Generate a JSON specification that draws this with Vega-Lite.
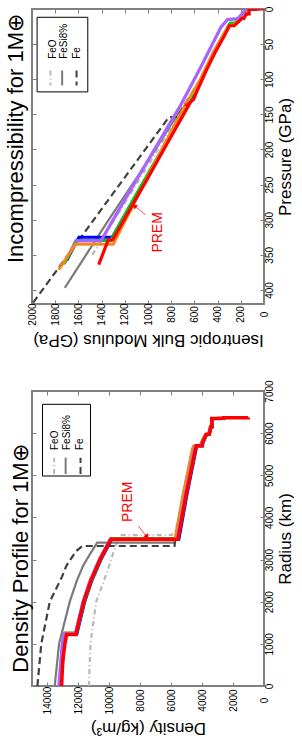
{
  "$schema": "https://vega.github.io/schema/vega-lite/v6.json",
  "padding": {"left": 3, "top": 5, "right": 0, "bottom": 0},
  "spacing": 28,
  "config": {
    "font": "Liberation Sans",
    "view": {"stroke": "#808080", "strokeWidth": 2},
    "axis": {"grid": false, "domain": false, "minExtent": 0, "tickColor": "#808080", "tickWidth": 1, "labelFontSize": 10, "labelColor": "black", "labelFont": "Liberation Sans", "titleFont": "Liberation Sans", "titleFontSize": 17, "titleFontWeight": "normal", "titleColor": "black", "labelOverlap": false, "labelFlush": false},
    "title": {"font": "Liberation Sans", "fontSize": 22, "fontWeight": "normal", "color": "black"}
  },
  "datasets": {
    "bulk": [
      {"m":"FeO","i":0,"p":350,"K":1480},{"m":"FeO","i":1,"p":276,"K":1200},{"m":"FeO","i":2,"p":200,"K":915},{"m":"FeO","i":3,"p":125,"K":640},{"m":"FeO","i":4,"p":100,"K":545},{"m":"FeO","i":5,"p":60,"K":430},{"m":"FeO","i":6,"p":20,"K":292},{"m":"FeO","i":7,"p":20,"K":250},{"m":"FeO","i":8,"p":7,"K":150},{"m":"FeO","i":9,"p":0,"K":130},
      {"m":"FeSi8%","i":0,"p":397,"K":1717},{"m":"FeSi8%","i":1,"p":307,"K":1366},{"m":"FeSi8%","i":2,"p":200,"K":935},{"m":"FeSi8%","i":3,"p":150,"K":745},{"m":"FeSi8%","i":4,"p":140,"K":690},{"m":"FeSi8%","i":5,"p":100,"K":545},{"m":"FeSi8%","i":6,"p":60,"K":430},{"m":"FeSi8%","i":7,"p":20,"K":292},{"m":"FeSi8%","i":8,"p":20,"K":250},{"m":"FeSi8%","i":9,"p":7,"K":150},{"m":"FeSi8%","i":10,"p":0,"K":130},
      {"m":"Fe","i":0,"p":418,"K":1990},{"m":"Fe","i":1,"p":154,"K":820},{"m":"Fe","i":2,"p":154,"K":745},{"m":"Fe","i":3,"p":140,"K":700},{"m":"Fe","i":4,"p":100,"K":545},{"m":"Fe","i":5,"p":60,"K":430},{"m":"Fe","i":6,"p":20,"K":292},{"m":"Fe","i":7,"p":20,"K":250},{"m":"Fe","i":8,"p":7,"K":150},{"m":"Fe","i":9,"p":0,"K":130},
      {"m":"m1","i":0,"p":0,"K":150},{"m":"m1","i":1,"p":14,"K":227},{"m":"m1","i":2,"p":15,"K":314},{"m":"m1","i":3,"p":26,"K":372},{"m":"m1","i":4,"p":82.7,"K":545},{"m":"m1","i":5,"p":139,"K":725},{"m":"m1","i":6,"p":200,"K":944},{"m":"m1","i":7,"p":269.5,"K":1193},{"m":"m1","i":8,"p":330,"K":1405},{"m":"m1","i":9,"p":330,"K":1625},{"m":"m1","i":10,"p":364,"K":1726},
      {"m":"m2","i":0,"p":0,"K":125},{"m":"m2","i":1,"p":7,"K":148},{"m":"m2","i":2,"p":22,"K":255},{"m":"m2","i":3,"p":22,"K":295},{"m":"m2","i":4,"p":60,"K":425},{"m":"m2","i":5,"p":100,"K":540},{"m":"m2","i":6,"p":138,"K":668},{"m":"m2","i":7,"p":200,"K":875},{"m":"m2","i":8,"p":270,"K":1120},{"m":"m2","i":9,"p":325,"K":1308},{"m":"m2","i":10,"p":325,"K":1596},{"m":"m2","i":11,"p":358,"K":1700},
      {"m":"m3","i":0,"p":0,"K":130},{"m":"m3","i":1,"p":7,"K":150},{"m":"m3","i":2,"p":20,"K":250},{"m":"m3","i":3,"p":20,"K":292},{"m":"m3","i":4,"p":60,"K":430},{"m":"m3","i":5,"p":100,"K":545},{"m":"m3","i":6,"p":140,"K":680},{"m":"m3","i":7,"p":200,"K":880},{"m":"m3","i":8,"p":270,"K":1122},{"m":"m3","i":9,"p":329.5,"K":1322},{"m":"m3","i":10,"p":329.5,"K":1610},{"m":"m3","i":11,"p":362,"K":1720},
      {"m":"m4","i":0,"p":0,"K":140},{"m":"m4","i":1,"p":8,"K":165},{"m":"m4","i":2,"p":23,"K":262},{"m":"m4","i":3,"p":23,"K":300},{"m":"m4","i":4,"p":60,"K":432},{"m":"m4","i":5,"p":100,"K":548},{"m":"m4","i":6,"p":140,"K":690},{"m":"m4","i":7,"p":200,"K":880},{"m":"m4","i":8,"p":270,"K":1100},{"m":"m4","i":9,"p":334.8,"K":1300},{"m":"m4","i":10,"p":334.8,"K":1625},{"m":"m4","i":11,"p":371,"K":1769},
      {"m":"m5","i":0,"p":0,"K":150},{"m":"m5","i":1,"p":14,"K":227},{"m":"m5","i":2,"p":15,"K":314},{"m":"m5","i":3,"p":26,"K":372},{"m":"m5","i":4,"p":82.7,"K":545},{"m":"m5","i":5,"p":139,"K":725},{"m":"m5","i":6,"p":200,"K":944},{"m":"m5","i":7,"p":269.5,"K":1193},{"m":"m5","i":8,"p":330,"K":1405},{"m":"m5","i":9,"p":330,"K":1625},
      {"m":"PREM","i":0,"p":0,"K":2},{"m":"PREM","i":1,"p":0.03,"K":52},{"m":"PREM","i":2,"p":0.34,"K":52},{"m":"PREM","i":3,"p":0.34,"K":75},{"m":"PREM","i":4,"p":0.6,"K":75},{"m":"PREM","i":5,"p":0.6,"K":130},{"m":"PREM","i":6,"p":2.45,"K":129},{"m":"PREM","i":7,"p":7.1,"K":128},{"m":"PREM","i":8,"p":7.1,"K":153},{"m":"PREM","i":9,"p":13.35,"K":173},{"m":"PREM","i":10,"p":13.35,"K":190},{"m":"PREM","i":11,"p":23.83,"K":256},{"m":"PREM","i":12,"p":23.83,"K":299},{"m":"PREM","i":13,"p":28.3,"K":311},{"m":"PREM","i":14,"p":38.6,"K":343},{"m":"PREM","i":15,"p":62.7,"K":424},{"m":"PREM","i":16,"p":88.3,"K":500},{"m":"PREM","i":17,"p":115,"K":573},{"m":"PREM","i":18,"p":128.7,"K":606},{"m":"PREM","i":19,"p":135.75,"K":656},{"m":"PREM","i":20,"p":135.75,"K":644},{"m":"PREM","i":21,"p":200,"K":864},{"m":"PREM","i":22,"p":250,"K":1034},{"m":"PREM","i":23,"p":300,"K":1206},{"m":"PREM","i":24,"p":328.85,"K":1305},{"m":"PREM","i":25,"p":328.85,"K":1343},{"m":"PREM","i":26,"p":363.85,"K":1425}
    ],
    "dens": [
      {"m":"FeO","i":0,"r":0,"d":11320},{"m":"FeO","i":1,"r":1000,"d":11220},{"m":"FeO","i":2,"r":2000,"d":10850},{"m":"FeO","i":3,"r":2750,"d":10100},{"m":"FeO","i":4,"r":3320,"d":9610},{"m":"FeO","i":5,"r":3580,"d":9290},{"m":"FeO","i":6,"r":3580,"d":5970},{"m":"FeO","i":7,"r":3700,"d":5700},{"m":"FeO","i":8,"r":4500,"d":5250},{"m":"FeO","i":9,"r":5600,"d":4640},{"m":"FeO","i":10,"r":5690,"d":4560},{"m":"FeO","i":11,"r":5690,"d":4100},{"m":"FeO","i":12,"r":5770,"d":4060},{"m":"FeO","i":13,"r":5970,"d":3800},{"m":"FeO","i":14,"r":5970,"d":3600},{"m":"FeO","i":15,"r":6150,"d":3480},{"m":"FeO","i":16,"r":6150,"d":3400},{"m":"FeO","i":17,"r":6370,"d":3400},
      {"m":"FeSi8%","i":0,"r":0,"d":13530},{"m":"FeSi8%","i":1,"r":1000,"d":13250},{"m":"FeSi8%","i":2,"r":2000,"d":12560},{"m":"FeSi8%","i":3,"r":2500,"d":12100},{"m":"FeSi8%","i":4,"r":2850,"d":11700},{"m":"FeSi8%","i":5,"r":3100,"d":11300},{"m":"FeSi8%","i":6,"r":3400,"d":10790},{"m":"FeSi8%","i":7,"r":3400,"d":5780},{"m":"FeSi8%","i":8,"r":3550,"d":5650},{"m":"FeSi8%","i":9,"r":4500,"d":5250},{"m":"FeSi8%","i":10,"r":5600,"d":4640},{"m":"FeSi8%","i":11,"r":5690,"d":4560},{"m":"FeSi8%","i":12,"r":5690,"d":4100},{"m":"FeSi8%","i":13,"r":5770,"d":4060},{"m":"FeSi8%","i":14,"r":5970,"d":3800},{"m":"FeSi8%","i":15,"r":5970,"d":3600},{"m":"FeSi8%","i":16,"r":6150,"d":3480},{"m":"FeSi8%","i":17,"r":6150,"d":3400},{"m":"FeSi8%","i":18,"r":6370,"d":3400},
      {"m":"Fe","i":0,"r":0,"d":14650},{"m":"Fe","i":1,"r":1000,"d":14400},{"m":"Fe","i":2,"r":2000,"d":13850},{"m":"Fe","i":3,"r":2600,"d":13050},{"m":"Fe","i":4,"r":2850,"d":12780},{"m":"Fe","i":5,"r":3000,"d":12520},{"m":"Fe","i":6,"r":3200,"d":12150},{"m":"Fe","i":7,"r":3322,"d":11750},{"m":"Fe","i":8,"r":3322,"d":5780},{"m":"Fe","i":9,"r":3440,"d":5760},{"m":"Fe","i":10,"r":4500,"d":5250},{"m":"Fe","i":11,"r":5600,"d":4640},{"m":"Fe","i":12,"r":5690,"d":4560},{"m":"Fe","i":13,"r":5690,"d":4100},{"m":"Fe","i":14,"r":5770,"d":4060},{"m":"Fe","i":15,"r":5970,"d":3800},{"m":"Fe","i":16,"r":5970,"d":3600},{"m":"Fe","i":17,"r":6150,"d":3480},{"m":"Fe","i":18,"r":6150,"d":3400},{"m":"Fe","i":19,"r":6370,"d":3400},
      {"m":"m1","i":0,"r":0,"d":13260},{"m":"m1","i":1,"r":1000,"d":13040},{"m":"m1","i":2,"r":1240,"d":12930},{"m":"m1","i":3,"r":1240,"d":12200},{"m":"m1","i":4,"r":2000,"d":11700},{"m":"m1","i":5,"r":2500,"d":11240},{"m":"m1","i":6,"r":3000,"d":10650},{"m":"m1","i":7,"r":3480,"d":9950},{"m":"m1","i":8,"r":3480,"d":5620},{"m":"m1","i":9,"r":4500,"d":5110},{"m":"m1","i":10,"r":5600,"d":4500},{"m":"m1","i":11,"r":5690,"d":4440},{"m":"m1","i":12,"r":5690,"d":4050},{"m":"m1","i":13,"r":5770,"d":4020},{"m":"m1","i":14,"r":5970,"d":3760},{"m":"m1","i":15,"r":5970,"d":3570},{"m":"m1","i":16,"r":6150,"d":3460},{"m":"m1","i":17,"r":6150,"d":3380},{"m":"m1","i":18,"r":6370,"d":3390},
      {"m":"m2","i":0,"r":0,"d":13140},{"m":"m2","i":1,"r":1000,"d":12920},{"m":"m2","i":2,"r":1230,"d":12810},{"m":"m2","i":3,"r":1230,"d":12100},{"m":"m2","i":4,"r":2000,"d":11590},{"m":"m2","i":5,"r":2500,"d":11130},{"m":"m2","i":6,"r":3000,"d":10540},{"m":"m2","i":7,"r":3480,"d":9840},{"m":"m2","i":8,"r":3480,"d":5500},{"m":"m2","i":9,"r":4500,"d":5000},{"m":"m2","i":10,"r":5600,"d":4400},{"m":"m2","i":11,"r":5700,"d":4340},{"m":"m2","i":12,"r":5700,"d":3970},{"m":"m2","i":13,"r":5770,"d":3950},{"m":"m2","i":14,"r":5970,"d":3700},{"m":"m2","i":15,"r":5970,"d":3530},{"m":"m2","i":16,"r":6150,"d":3420},{"m":"m2","i":17,"r":6150,"d":3350},{"m":"m2","i":18,"r":6370,"d":3360},
      {"m":"m3","i":0,"r":0,"d":13170},{"m":"m3","i":1,"r":1000,"d":12950},{"m":"m3","i":2,"r":1260,"d":12850},{"m":"m3","i":3,"r":1260,"d":12130},{"m":"m3","i":4,"r":2000,"d":11620},{"m":"m3","i":5,"r":2500,"d":11160},{"m":"m3","i":6,"r":3000,"d":10570},{"m":"m3","i":7,"r":3500,"d":9870},{"m":"m3","i":8,"r":3500,"d":5560},{"m":"m3","i":9,"r":4500,"d":5050},{"m":"m3","i":10,"r":5600,"d":4440},{"m":"m3","i":11,"r":5700,"d":4380},{"m":"m3","i":12,"r":5700,"d":3990},{"m":"m3","i":13,"r":5770,"d":3970},{"m":"m3","i":14,"r":5970,"d":3720},{"m":"m3","i":15,"r":5970,"d":3540},{"m":"m3","i":16,"r":6150,"d":3430},{"m":"m3","i":17,"r":6150,"d":3360},{"m":"m3","i":18,"r":6370,"d":3370},
      {"m":"m4","i":0,"r":0,"d":13200},{"m":"m4","i":1,"r":1000,"d":12980},{"m":"m4","i":2,"r":1250,"d":12870},{"m":"m4","i":3,"r":1250,"d":12190},{"m":"m4","i":4,"r":2000,"d":11680},{"m":"m4","i":5,"r":2500,"d":11220},{"m":"m4","i":6,"r":3000,"d":10630},{"m":"m4","i":7,"r":3470,"d":9930},{"m":"m4","i":8,"r":3470,"d":5760},{"m":"m4","i":9,"r":4500,"d":5250},{"m":"m4","i":10,"r":5600,"d":4640},{"m":"m4","i":11,"r":5690,"d":4560},{"m":"m4","i":12,"r":5690,"d":4100},{"m":"m4","i":13,"r":5770,"d":4060},{"m":"m4","i":14,"r":5970,"d":3800},{"m":"m4","i":15,"r":5970,"d":3600},{"m":"m4","i":16,"r":6150,"d":3480},{"m":"m4","i":17,"r":6150,"d":3400},{"m":"m4","i":18,"r":6370,"d":3400},
      {"m":"m5","i":0,"r":0,"d":13260},{"m":"m5","i":1,"r":1000,"d":13040},{"m":"m5","i":2,"r":1240,"d":12930},{"m":"m5","i":3,"r":1240,"d":12200},{"m":"m5","i":4,"r":2000,"d":11700},{"m":"m5","i":5,"r":2500,"d":11240},{"m":"m5","i":6,"r":3000,"d":10650},{"m":"m5","i":7,"r":3480,"d":9950},{"m":"m5","i":8,"r":3480,"d":5620},{"m":"m5","i":9,"r":4500,"d":5110},{"m":"m5","i":10,"r":5600,"d":4500},{"m":"m5","i":11,"r":5690,"d":4440},{"m":"m5","i":12,"r":5690,"d":4050},{"m":"m5","i":13,"r":5770,"d":4020},{"m":"m5","i":14,"r":5970,"d":3760},{"m":"m5","i":15,"r":5970,"d":3570},{"m":"m5","i":16,"r":6150,"d":3460},{"m":"m5","i":17,"r":6150,"d":3380},{"m":"m5","i":18,"r":6370,"d":3390},
      {"m":"PREM","i":0,"r":0,"d":13088},{"m":"PREM","i":1,"r":600,"d":13010},{"m":"PREM","i":2,"r":1000,"d":12871},{"m":"PREM","i":3,"r":1221.5,"d":12764},{"m":"PREM","i":4,"r":1221.5,"d":12166},{"m":"PREM","i":5,"r":2000,"d":11655},{"m":"PREM","i":6,"r":2500,"d":11191},{"m":"PREM","i":7,"r":3000,"d":10601},{"m":"PREM","i":8,"r":3480,"d":9903},{"m":"PREM","i":9,"r":3480,"d":5566},{"m":"PREM","i":10,"r":4500,"d":5055},{"m":"PREM","i":11,"r":5600,"d":4443},{"m":"PREM","i":12,"r":5701,"d":4381},{"m":"PREM","i":13,"r":5701,"d":3992},{"m":"PREM","i":14,"r":5771,"d":3976},{"m":"PREM","i":15,"r":5971,"d":3724},{"m":"PREM","i":16,"r":5971,"d":3543},{"m":"PREM","i":17,"r":6151,"d":3436},{"m":"PREM","i":18,"r":6151,"d":3360},{"m":"PREM","i":19,"r":6346,"d":3381},{"m":"PREM","i":20,"r":6346,"d":2900},{"m":"PREM","i":21,"r":6356,"d":2900},{"m":"PREM","i":22,"r":6356,"d":2600},{"m":"PREM","i":23,"r":6368,"d":2600},{"m":"PREM","i":24,"r":6368,"d":1020},{"m":"PREM","i":25,"r":6371,"d":1020}
    ]
  },
  "vconcat": [
    {
      "width": 232,
      "height": 295,
      "title": {"text": "Incompressibility for 1M⊕", "orient": "left", "angle": 270, "baseline": "alphabetic", "offset": -18, "dx": 18},
      "resolve": {"axis": {"x": "independent", "y": "independent"}},
      "layer": [
        {
          "data": {"name": "bulk"},
          "transform": [{"filter": "datum.m === 'FeO' || datum.m === 'FeSi8%' || datum.m === 'Fe'"}],
          "mark": {"type": "line", "clip": true, "strokeWidth": 2.2},
          "encoding": {
            "x": {"field": "K", "type": "quantitative", "scale": {"domain": [0, 2000], "reverse": true, "nice": false, "zero": false},
              "axis": {"orient": "bottom", "values": [0,200,400,600,800,1000,1200,1400,1600,1800,2000], "format": "d", "labelAngle": 270, "labelAlign": "center", "labelBaseline": "middle", "tickSize": -4, "labelPadding": 14, "title": "Isentropic Bulk Modulus (GPa)", "titleAngle": 180, "titleBaseline": "bottom", "titlePadding": 5}},
            "y": {"field": "p", "type": "quantitative", "scale": {"domain": [0, 420], "reverse": true, "nice": false, "zero": false},
              "axis": {"orient": "right", "values": [0,50,100,150,200,250,300,350,400], "format": "d", "labelAngle": 270, "labelAlign": "center", "labelBaseline": "middle", "tickSize": -4, "labelPadding": 9, "title": "Pressure (GPa)", "titleAngle": 270, "titleBaseline": "top", "titlePadding": 3}},
            "order": {"field": "i", "type": "quantitative"},
            "color": {"field": "m", "type": "nominal", "scale": {"domain": ["FeO","FeSi8%","Fe","m1","m2","m3","m4","m5","PREM"], "range": ["#b8b8b8","#7a7a7a","#404040","#f070f0","#0000ff","#00cc00","#f08c1e","#a366ff","#ff0000"]}, "legend": null},
            "strokeDash": {"field": "m", "type": "nominal", "scale": {"domain": ["FeO", "FeSi8%", "Fe"], "range": [[5,3,1,3], [1,0], [7,4]]}, "legend": null}
          }
        },
        {
          "data": {"name": "bulk"},
          "transform": [{"filter": "datum.m === 'm1' || datum.m === 'm2' || datum.m === 'm3' || datum.m === 'm4' || datum.m === 'm5'"}],
          "mark": {"type": "line", "clip": true, "strokeWidth": 3},
          "encoding": {
            "x": {"field": "K", "type": "quantitative", "axis": null},
            "y": {"field": "p", "type": "quantitative", "axis": null},
            "order": {"field": "i", "type": "quantitative"},
            "color": {"field": "m", "type": "nominal", "scale": {"domain": ["FeO","FeSi8%","Fe","m1","m2","m3","m4","m5","PREM"], "range": ["#b8b8b8","#7a7a7a","#404040","#f070f0","#0000ff","#00cc00","#f08c1e","#a366ff","#ff0000"]}, "legend": null}
          }
        },
        {
          "data": {"name": "bulk"},
          "transform": [{"filter": "datum.m === 'PREM'"}],
          "mark": {"type": "line", "clip": true, "strokeWidth": 3.2, "color": "#ff0000"},
          "encoding": {
            "x": {"field": "K", "type": "quantitative", "axis": null},
            "y": {"field": "p", "type": "quantitative", "axis": null},
            "order": {"field": "i", "type": "quantitative"}
          }
        },
        {
          "data": {"values": [{}]},
          "mark": {"type": "point", "opacity": 0},
          "encoding": {
            "x": {"datum": 1000, "type": "quantitative", "axis": {"orient": "top", "values": [0,200,400,600,800,1000,1200,1400,1600,1800,2000], "labels": false, "tickSize": -4, "title": null}},
            "y": {"datum": 100, "type": "quantitative", "axis": {"orient": "left", "values": [0,50,100,150,200,250,300,350,400], "labels": false, "tickSize": -4, "title": null}}
          }
        },
        {
          "data": {"values": [{}]},
          "mark": {"type": "rect", "fill": "white", "stroke": "black", "strokeWidth": 1},
          "encoding": {
            "x": {"datum": 1956, "type": "quantitative", "axis": null}, "x2": {"datum": 1519},
            "y": {"datum": 11.8, "type": "quantitative", "axis": null}, "y2": {"datum": 118}
          }
        },
        {
          "data": {"values": [{}]},
          "mark": {"type": "rule", "stroke": "#b8b8b8", "strokeWidth": 2, "strokeDash": [5,3,1,3]},
          "encoding": {"x": {"datum": 1841, "type": "quantitative", "axis": null}, "y": {"datum": 87.5, "type": "quantitative", "axis": null}, "y2": {"datum": 108.8}}
        },
        {
          "data": {"values": [{}]},
          "mark": {"type": "rule", "stroke": "#7a7a7a", "strokeWidth": 2},
          "encoding": {"x": {"datum": 1740, "type": "quantitative", "axis": null}, "y": {"datum": 87.5, "type": "quantitative", "axis": null}, "y2": {"datum": 108.8}}
        },
        {
          "data": {"values": [{}]},
          "mark": {"type": "rule", "stroke": "#404040", "strokeWidth": 2, "strokeDash": [7,4]},
          "encoding": {"x": {"datum": 1616, "type": "quantitative", "axis": null}, "y": {"datum": 87.5, "type": "quantitative", "axis": null}, "y2": {"datum": 108.8}}
        },
        {
          "data": {"values": [{"t": "FeO"}]},
          "mark": {"type": "text", "angle": 270, "align": "left", "baseline": "middle", "fontSize": 10},
          "encoding": {"x": {"datum": 1815, "type": "quantitative", "axis": null}, "y": {"datum": 71, "type": "quantitative", "axis": null}, "text": {"field": "t"}}
        },
        {
          "data": {"values": [{"t": "FeSi8%"}]},
          "mark": {"type": "text", "angle": 270, "align": "left", "baseline": "middle", "fontSize": 10},
          "encoding": {"x": {"datum": 1720, "type": "quantitative", "axis": null}, "y": {"datum": 71, "type": "quantitative", "axis": null}, "text": {"field": "t"}}
        },
        {
          "data": {"values": [{"t": "Fe"}]},
          "mark": {"type": "text", "angle": 270, "align": "left", "baseline": "middle", "fontSize": 10},
          "encoding": {"x": {"datum": 1608, "type": "quantitative", "axis": null}, "y": {"datum": 71, "type": "quantitative", "axis": null}, "text": {"field": "t"}}
        },
        {
          "data": {"values": [{"t": "PREM"}]},
          "mark": {"type": "text", "angle": 270, "align": "center", "baseline": "middle", "fontSize": 14, "color": "#ff0000"},
          "encoding": {"x": {"datum": 912, "type": "quantitative", "axis": null}, "y": {"datum": 318, "type": "quantitative", "axis": null}, "text": {"field": "t"}}
        },
        {
          "data": {"values": [{}]},
          "mark": {"type": "rule", "stroke": "#ff5050", "strokeWidth": 1},
          "encoding": {"x": {"datum": 1020, "type": "quantitative", "axis": null}, "x2": {"datum": 1110}, "y": {"datum": 293, "type": "quantitative", "axis": null}, "y2": {"datum": 281.5}}
        },
        {
          "data": {"values": [{}]},
          "mark": {"type": "point", "shape": "triangle", "filled": true, "color": "#ff0000", "opacity": 1, "size": 30, "angle": 308},
          "encoding": {"x": {"datum": 1112, "type": "quantitative", "axis": null}, "y": {"datum": 281, "type": "quantitative", "axis": null}}
        }
      ]
    },
    {
      "width": 232,
      "height": 295,
      "title": {"text": "Density Profile for 1M⊕", "orient": "left", "angle": 270, "baseline": "alphabetic", "offset": -18, "dx": -20},
      "resolve": {"axis": {"x": "independent", "y": "independent"}},
      "layer": [
        {
          "data": {"name": "dens"},
          "transform": [{"filter": "datum.m === 'FeO' || datum.m === 'FeSi8%' || datum.m === 'Fe'"}],
          "mark": {"type": "line", "clip": true, "strokeWidth": 2.2},
          "encoding": {
            "x": {"field": "d", "type": "quantitative", "scale": {"domain": [0, 15000], "reverse": true, "nice": false, "zero": false},
              "axis": {"orient": "bottom", "values": [0,2000,4000,6000,8000,10000,12000,14000], "format": "d", "labelAngle": 270, "labelAlign": "center", "labelBaseline": "middle", "tickSize": -4, "labelPadding": 18, "title": "Density (kg/m³)", "titleAngle": 180, "titleBaseline": "bottom", "titlePadding": 5}},
            "y": {"field": "r", "type": "quantitative", "scale": {"domain": [0, 7000], "nice": false, "zero": false},
              "axis": {"orient": "right", "values": [0,1000,2000,3000,4000,5000,6000,7000], "format": "d", "labelAngle": 270, "labelAlign": "center", "labelBaseline": "middle", "tickSize": -4, "labelPadding": 9, "title": "Radius (km)", "titleAngle": 270, "titleBaseline": "top", "titlePadding": 3}},
            "order": {"field": "i", "type": "quantitative"},
            "color": {"field": "m", "type": "nominal", "scale": {"domain": ["FeO","FeSi8%","Fe","m1","m2","m3","m4","m5","PREM"], "range": ["#b8b8b8","#7a7a7a","#404040","#f070f0","#0000ff","#00cc00","#f08c1e","#a366ff","#ff0000"]}, "legend": null},
            "strokeDash": {"field": "m", "type": "nominal", "scale": {"domain": ["FeO", "FeSi8%", "Fe"], "range": [[5,3,1,3], [1,0], [7,4]]}, "legend": null}
          }
        },
        {
          "data": {"name": "dens"},
          "transform": [{"filter": "datum.m === 'm1' || datum.m === 'm2' || datum.m === 'm3' || datum.m === 'm4' || datum.m === 'm5'"}],
          "mark": {"type": "line", "clip": true, "strokeWidth": 3},
          "encoding": {
            "x": {"field": "d", "type": "quantitative", "axis": null},
            "y": {"field": "r", "type": "quantitative", "axis": null},
            "order": {"field": "i", "type": "quantitative"},
            "color": {"field": "m", "type": "nominal", "scale": {"domain": ["FeO","FeSi8%","Fe","m1","m2","m3","m4","m5","PREM"], "range": ["#b8b8b8","#7a7a7a","#404040","#f070f0","#0000ff","#00cc00","#f08c1e","#a366ff","#ff0000"]}, "legend": null}
          }
        },
        {
          "data": {"name": "dens"},
          "transform": [{"filter": "datum.m === 'PREM'"}],
          "mark": {"type": "line", "clip": true, "strokeWidth": 3.5, "color": "#ff0000"},
          "encoding": {
            "x": {"field": "d", "type": "quantitative", "axis": null},
            "y": {"field": "r", "type": "quantitative", "axis": null},
            "order": {"field": "i", "type": "quantitative"}
          }
        },
        {
          "data": {"values": [{}]},
          "mark": {"type": "point", "opacity": 0},
          "encoding": {
            "x": {"datum": 5000, "type": "quantitative", "axis": {"orient": "top", "values": [0,2000,4000,6000,8000,10000,12000,14000], "labels": false, "tickSize": -4, "title": null}},
            "y": {"datum": 3000, "type": "quantitative", "axis": {"orient": "left", "values": [0,1000,2000,3000,4000,5000,6000,7000], "labels": false, "tickSize": -4, "title": null}}
          }
        },
        {
          "data": {"values": [{}]},
          "mark": {"type": "rect", "fill": "white", "stroke": "black", "strokeWidth": 1},
          "encoding": {
            "x": {"datum": 14322, "type": "quantitative", "axis": null}, "x2": {"datum": 11219},
            "y": {"datum": 6684, "type": "quantitative", "axis": null}, "y2": {"datum": 4983}
          }
        },
        {
          "data": {"values": [{}]},
          "mark": {"type": "rule", "stroke": "#b8b8b8", "strokeWidth": 2, "strokeDash": [5,3,1,3]},
          "encoding": {"x": {"datum": 13570, "type": "quantitative", "axis": null}, "y": {"datum": 5031, "type": "quantitative", "axis": null}, "y2": {"datum": 5417}}
        },
        {
          "data": {"values": [{}]},
          "mark": {"type": "rule", "stroke": "#7a7a7a", "strokeWidth": 2},
          "encoding": {"x": {"datum": 12825, "type": "quantitative", "axis": null}, "y": {"datum": 5031, "type": "quantitative", "axis": null}, "y2": {"datum": 5417}}
        },
        {
          "data": {"values": [{}]},
          "mark": {"type": "rule", "stroke": "#404040", "strokeWidth": 2, "strokeDash": [7,4]},
          "encoding": {"x": {"datum": 11862, "type": "quantitative", "axis": null}, "y": {"datum": 5031, "type": "quantitative", "axis": null}, "y2": {"datum": 5417}}
        },
        {
          "data": {"values": [{"t": "FeO"}]},
          "mark": {"type": "text", "angle": 270, "align": "left", "baseline": "middle", "fontSize": 10},
          "encoding": {"x": {"datum": 13487, "type": "quantitative", "axis": null}, "y": {"datum": 5600, "type": "quantitative", "axis": null}, "text": {"field": "t"}}
        },
        {
          "data": {"values": [{"t": "FeSi8%"}]},
          "mark": {"type": "text", "angle": 270, "align": "left", "baseline": "middle", "fontSize": 10},
          "encoding": {"x": {"datum": 12716, "type": "quantitative", "axis": null}, "y": {"datum": 5600, "type": "quantitative", "axis": null}, "text": {"field": "t"}}
        },
        {
          "data": {"values": [{"t": "Fe"}]},
          "mark": {"type": "text", "angle": 270, "align": "left", "baseline": "middle", "fontSize": 10},
          "encoding": {"x": {"datum": 11881, "type": "quantitative", "axis": null}, "y": {"datum": 5600, "type": "quantitative", "axis": null}, "text": {"field": "t"}}
        },
        {
          "data": {"values": [{"t": "PREM"}]},
          "mark": {"type": "text", "angle": 270, "align": "center", "baseline": "middle", "fontSize": 14, "color": "#ff0000"},
          "encoding": {"x": {"datum": 8811, "type": "quantitative", "axis": null}, "y": {"datum": 4371, "type": "quantitative", "axis": null}, "text": {"field": "t"}}
        },
        {
          "data": {"values": [{}]},
          "mark": {"type": "rule", "stroke": "#ff5050", "strokeWidth": 1},
          "encoding": {"x": {"datum": 8111, "type": "quantitative", "axis": null}, "x2": {"datum": 7640}, "y": {"datum": 3797, "type": "quantitative", "axis": null}, "y2": {"datum": 3570}}
        },
        {
          "data": {"values": [{}]},
          "mark": {"type": "point", "shape": "triangle", "filled": true, "color": "#ff0000", "opacity": 1, "size": 30, "angle": 142},
          "encoding": {"x": {"datum": 7600, "type": "quantitative", "axis": null}, "y": {"datum": 3555, "type": "quantitative", "axis": null}}
        }
      ]
    }
  ]
}
